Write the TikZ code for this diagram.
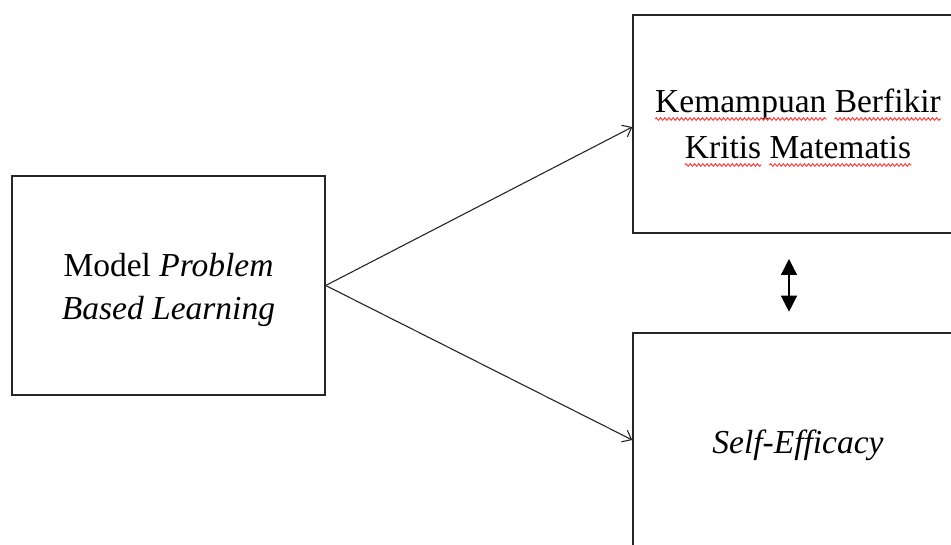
\documentclass[tikz,border=0pt]{standalone}
\usepackage{fontspec}
\setmainfont{Liberation Serif}
\usetikzlibrary{arrows.meta,calc,decorations.pathmorphing}
\begin{document}
\begin{tikzpicture}[x=1pt,y=1pt,
  box/.style={draw=black!85,line width=1.4pt,minimum width=#1,inner sep=0pt},
  txt/.style={font=\fontsize{33.5}{43}\selectfont,inner sep=0pt,anchor=base},
  word/.style={font=\fontsize{33.5}{43}\selectfont,inner sep=0pt},
  link/.style={draw=black!85,line width=1.1pt,-{Straight Barb[length=8pt,width=13pt,line width=1.1pt]}},
  dbl/.style={draw=black,line width=1.3pt,{Triangle[length=16pt,width=16pt]}-{Triangle[length=16pt,width=16pt]}},
  squig/.style={draw=red!75,line width=1pt,decorate,decoration={snake,amplitude=1.3pt,segment length=4.2pt}}
]
\useasboundingbox (0,0) rectangle (951,544);
\clip (0,0) rectangle (951,544);
% boxes
\node[box=313pt,minimum height=219pt] (pbl) at (168.5,258.5) {};
\node[box=330pt,minimum height=218pt] (kk) at (798,420) {};
\node[box=330pt,minimum height=220pt] (se) at (798,101) {};
% left text
\node[txt] (pbl1) at (168.5,267.3) {Model \textit{Problem}};
\node[txt] (pbl2) at (168.5,224.2) {\textit{Based Learning}};
% top right text
\node[txt] (kk1) at (798,431) {Kemampuan Berfikir};
\node[txt] (kk2) at (798,385) {Kritis Matematis};
\node[word,anchor=base west] (w1) at (kk1.base west) {\phantom{Kemampuan}};
\node[word,anchor=base east] (w2) at (kk1.base east) {\phantom{Berfikir}};
\node[word,anchor=base west] (w3) at (kk2.base west) {\phantom{Kritis}};
\node[word,anchor=base east] (w4) at (kk2.base east) {\phantom{Matematis}};
\foreach \w in {w1,w2,w3,w4}{
  \path[squig] ($(\w.base west)+(0,-6)$) -- ($(\w.base east)+(0,-6)$);
}
% bottom right text
\node[txt] (se1) at (798,90.7) {\textit{Self-Efficacy}};
% connectors
\coordinate (a1) at ($(kk.west)+(0,-3)$);
\coordinate (a2) at ($(se.west)+(0,3)$);
\draw[link] (pbl.east) -- (a1);
\draw[link] (pbl.east) -- (a2);
\coordinate (d1) at (789,285);
\coordinate (d2) at (789,232.3);
\draw[dbl] (d1) -- (d2);
\end{tikzpicture}
\end{document}
